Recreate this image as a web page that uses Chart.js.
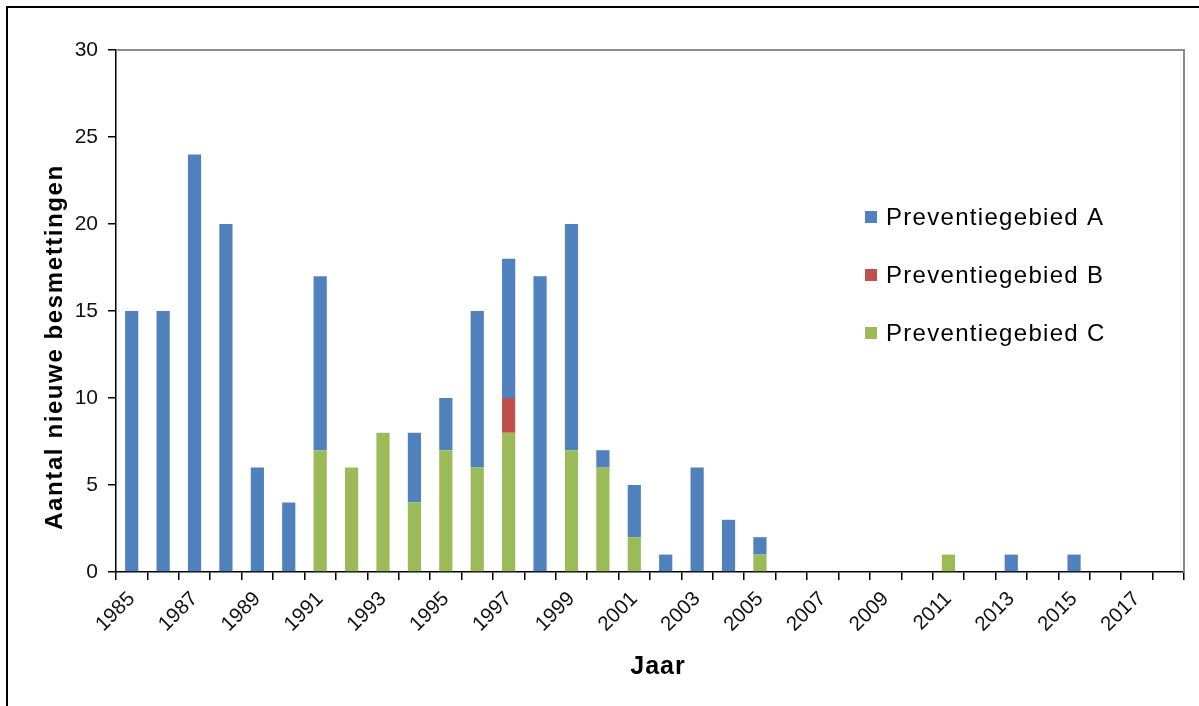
<!DOCTYPE html>
<html>
<head>
<meta charset="utf-8">
<script src="https://cdn.jsdelivr.net/npm/chart.js@4/dist/chart.umd.min.js"></script>
<style>
  html, body { margin: 0; padding: 0; background: #fff; }
  #wrap { width: 1199px; height: 706px; position: relative; }
</style>
</head>
<body>
<div id="wrap"><canvas id="chart0a" width="1199" height="706"></canvas></div>
<script>
// Jaren (categorieen)
const years = ['1985','1986','1987','1988','1989','1990','1991','1992','1993','1994',
               '1995','1996','1997','1998','1999','2000','2001','2002','2003','2004',
               '2005','2006','2007','2008','2009','2010','2011','2012','2013','2014',
               '2015','2016','2017','2018'];

// Aantal nieuwe besmettingen per preventiegebied
const prevA = [15,15,24,20,6,4,10,0,0,4, 3,9,8,17,13,1,3,1,6,3, 1,0,0,0,0,0,0,0,1,0, 1,0,0,0];
const prevB = [0,0,0,0,0,0,0,0,0,0, 0,0,2,0,0,0,0,0,0,0, 0,0,0,0,0,0,0,0,0,0, 0,0,0,0];
const prevC = [0,0,0,0,0,0,7,6,8,4, 7,6,8,0,7,6,2,0,0,0, 1,0,0,0,0,0,1,0,0,0, 0,0,0,0];

const yTicks = [0, 5, 10, 15, 20, 25, 30];

const FONT = "'Liberation Sans', Arial, sans-serif";

// achtergrond, kader en titels
const decoPlugin = {
    id: 'deco',
    beforeDraw(chart) {
        const c = chart.ctx;
        c.save();
        c.fillStyle = '#fff';
        c.fillRect(0, 0, chart.width, chart.height);
        c.strokeStyle = '#000';
        c.lineWidth = 2;
        c.beginPath();
        c.moveTo(7, chart.height);
        c.lineTo(7, 7);
        c.lineTo(chart.width, 7);
        c.stroke();
        c.restore();
    },
    afterDraw(chart) {
        const c = chart.ctx;
        const a = chart.chartArea;
        c.save();
        // grijze rand boven en rechts
        c.strokeStyle = '#8c8c8c';
        c.lineWidth = 2;
        c.beginPath();
        c.moveTo(a.left, a.top);
        c.lineTo(a.right, a.top);
        c.lineTo(a.right, a.bottom);
        c.stroke();

        // astitels
        c.fillStyle = '#000';
        c.textAlign = 'center';
        c.textBaseline = 'middle';
        c.font = 'bold 25px ' + FONT;
        c.letterSpacing = '1px';
        c.fillText('Jaar', 658, 667);
        c.translate(55, 347);
        c.rotate(-Math.PI / 2);
        c.font = 'bold 24px ' + FONT;
        c.letterSpacing = '1.6px';
        c.fillText('Aantal nieuwe besmettingen', 0, 0);
        c.restore();

        // legenda
        c.save();
        const items = chart.data.datasets.slice().reverse();
        c.font = '24px ' + FONT;
        c.letterSpacing = '1.3px';
        c.textAlign = 'left';
        c.textBaseline = 'middle';
        items.forEach((ds, i) => {
            const y = 217 + i * 58;
            c.fillStyle = ds.backgroundColor;
            c.fillRect(865, y - 6, 12, 12);
            c.fillStyle = '#000';
            c.fillText(ds.label, 886, y + 1);
        });
        c.restore();
    }
};

const ctx = document.getElementById('chart0a').getContext('2d');

new Chart(ctx, {
    type: 'bar',
    data: {
        labels: years,
        datasets: [
            { label: 'Preventiegebied C', data: prevC, backgroundColor: '#9BBB59' },
            { label: 'Preventiegebied B', data: prevB, backgroundColor: '#C0504D' },
            { label: 'Preventiegebied A', data: prevA, backgroundColor: '#4F81BD' }
        ]
    },
    options: {
        responsive: false,
        animation: false,
        layout: { padding: { left: 37, top: 50, right: 15, bottom: 0 } },
        datasets: {
            bar: { barPercentage: 0.42, categoryPercentage: 1.0 }
        },
        plugins: {
            legend: { display: false },
            title: { display: false },
            tooltip: { enabled: false }
        },
        scales: {
            x: {
                stacked: true,
                offset: true,
                grid: {
                    offset: true,
                    drawOnChartArea: false,
                    tickLength: 8,
                    color: '#000',
                    lineWidth: 1.5
                },
                border: { color: '#000', width: 1.5 },
                ticks: {
                    autoSkip: false,
                    minRotation: 45,
                    maxRotation: 45,
                    padding: 7,
                    color: '#111',
                    font: { family: FONT, size: 20.5 },
                    callback: function(value, index) {
                        return index % 2 === 0 ? years[index] : '';
                    }
                },
                afterFit: s => { s.height = 134; }
            },
            y: {
                stacked: true,
                min: 0,
                max: 30,
                grid: {
                    drawOnChartArea: false,
                    tickLength: 8,
                    color: '#000',
                    lineWidth: 1.5
                },
                border: { color: '#000', width: 1.5 },
                afterBuildTicks: s => { s.ticks = yTicks.map(v => ({ value: v })); },
                ticks: {
                    padding: 10,
                    color: '#111',
                    font: { family: FONT, size: 21 }
                },
                afterFit: s => { s.width = 79; }
            }
        }
    },
    plugins: [decoPlugin]
});
</script>
</body>
</html>
